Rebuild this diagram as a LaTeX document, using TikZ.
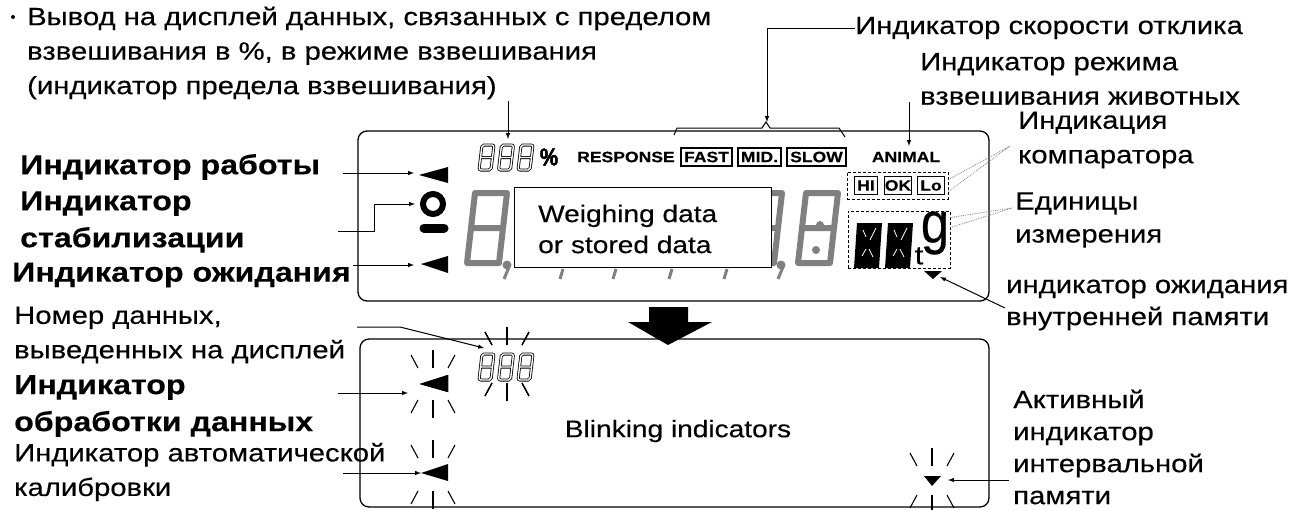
\documentclass[tikz,border=0pt]{standalone}
\usepackage{fontspec}
\setmainfont[FakeStretch=1.17,FakeBold=.3]{Liberation Sans}
\usetikzlibrary{arrows,shapes}
\tikzset{
	lbl/.style={anchor=west,inner sep=0pt,align=left,font=\fontsize{25}{34.5}\selectfont},
	lblbold/.style={anchor=west,inner sep=0pt,align=left,font=\fontsize{27.5}{37}\selectfont\bfseries},
	lcd/.style={inner sep=0pt,font=\fontsize{15}{15}\selectfont\bfseries},
	lcdbox/.style={draw,line width=1.2pt,minimum height=18pt,inner sep=0pt,font=\fontsize{15}{15}\selectfont\bfseries},
	arr/.style={-latex,line width=1pt},
	panel/.style={draw,line width=1.3pt,rounded corners=9pt},
	dotbox/.style={draw,line width=1pt,densely dashed},
	leader/.style={densely dotted,line width=.8pt,gray},
	biglcd/.style={draw=gray,line width=6pt,line join=round},
	smalllcd/.style={draw=black,line width=.8pt,double=white,double distance=1.4pt,rounded corners=2pt},
	ray/.style={line width=1.1pt}
}
% slanted seven segment eight
\newcommand{\segeight}[5]{\draw[#5] (#1+#3*.2,#2) -- (#1+#3,#2) -- (#1+#3*.8,#2+#4) -- (#1,#2+#4) -- cycle (#1+#3*.1,#2+#4*.5) -- (#1+#3*.9,#2+#4*.5);}
% rays round a blinking indicator
\newcommand{\blink}[3]{
	\draw[ray] (#1,#2) -- (#1,#2-18) (#1,#3) -- (#1,#3+18);
	\foreach \dx/\ex in {-15/-22,15/22}
		\draw[ray] (#1+\dx,#2) -- (#1+\ex,#2-13) (#1+\dx,#3) -- (#1+\ex,#3+13);
}
\begin{document}
\begin{tikzpicture}[x=1pt,y=-1pt]
	\useasboundingbox (0,0) rectangle (1296,509);
	% panels
	\draw[panel] (358,131) rectangle (989,301);
	\draw[panel] (360,339) rectangle (989,507);
	\fill (649,307) -- (688,307) -- (688,322) -- (712,322) -- (668,345) -- (628,322) -- (649,322) -- cycle;
	% upper panel, lcd
	\segeight{467}{193}{40}{70}{biglcd}
	\segeight{742}{193}{40}{70}{biglcd}
	\segeight{798}{193}{40}{70}{biglcd}
	\fill[gray] (820,225) circle (4) (816,250) circle (4);
	\foreach \x in {507,781} {
		\fill[gray] (\x,265) circle (4.5);
		\draw[gray,line width=3pt] (\x+2,267) -- (\x-3,279);
	}
	\foreach \x in {563,616,672,727}
		\draw[gray,line width=3pt] (\x,269) -- (\x-3,279);
	\node[draw,fill=white,line width=1pt,minimum width=257pt,minimum height=80pt] (DataBox) at (642.5,227) {};
	\node[lbl,font=\fontsize{24}{31}\selectfont] (DataTxt) at (538,229) {Weighing data\\or stored data};
	\foreach \x in {479,498.5,518}
		\segeight{\x}{145}{15}{25}{smalllcd}
	\node[lcd,xscale=.72,font=\fontsize{24}{24}\selectfont\bfseries] (Pct) at (549,157) {\%};
	\node[lcd,anchor=west] (Resp) at (577,157) {RESPONSE};
	\node[lcdbox,minimum width=51pt] (Fast) at (706.5,157) {FAST};
	\node[lcdbox,minimum width=43pt] (Mid) at (759.5,157) {MID.};
	\node[lcdbox,minimum width=59pt] (Slow) at (816.5,157) {SLOW};
	\node[lcd] (Animal) at (906,157) {ANIMAL};
	\node[dotbox,minimum width=101pt,minimum height=27pt] (CmpBox) at (897.5,185.5) {};
	\node[lcdbox,minimum width=23pt,minimum height=18pt] (Hi) at (866,185.5) {HI};
	\node[lcdbox,minimum width=27pt,minimum height=18pt] (Ok) at (898,185.5) {OK};
	\node[lcdbox,minimum width=27pt,minimum height=18pt] (Lo) at (931,185.5) {Lo};
	\node[dotbox,minimum width=102pt,minimum height=57pt] (UnitBox) at (899,239.5) {};
	\foreach \x in {854,885} {
		\fill (\x+3,223) -- (\x+28,223) -- (\x+25,268) -- (\x,268) -- cycle;
		\draw[white,line width=.8pt] (\x+9,230) -- (\x+12,237) (\x+22,228) -- (\x+16,240) (\x+8,256) -- (\x+12,249) (\x+19,257) -- (\x+15,249);
	}
	\node[inner sep=0pt,font=\fontsize{26}{26}\selectfont] (UnitT) at (919,256) {t};
	\node[inner sep=0pt,xscale=.75,font=\fontsize{58}{58}\selectfont] (UnitG) at (935,233) {g};
	\fill (924,271) -- (942,271) -- (933,279) -- cycle;
	\fill (419,175) -- (448,167) -- (448,183) -- cycle;
	\draw[line width=6pt] (433,204) circle (10);
	\draw[line width=9pt,line cap=round] (424,228) -- (444,228);
	\fill (421,264) -- (448,256) -- (448,273) -- cycle;
	% lower panel
	\foreach \x in {479,498.5,518}
		\segeight{\x}{354}{15}{26}{smalllcd}
	\blink{507}{345}{383}
	\fill (420,384) -- (448,375) -- (448,392) -- cycle;
	\blink{433}{368}{400}
	\fill (421,473) -- (448,464) -- (448,481) -- cycle;
	\blink{433}{458}{491}
	\fill (924,476) -- (941,476) -- (932,486) -- cycle;
	\blink{932}{466}{495}
	\node[inner sep=0pt,font=\fontsize{24}{24}\selectfont] (BlinkTxt) at (678,431) {Blinking indicators};
	% labels
	\fill (13,17) circle (2);
	\node[lbl] (TxtLimit) at (27,53) {Вывод на дисплей данных, связанных с пределом\\взвешивания в \%, в режиме взвешивания\\(индикатор предела взвешивания)};
	\node[lbl] (TxtSpeed) at (855,28) {Индикатор скорости отклика};
	\node[lbl] (TxtAnimal) at (920,79) {Индикатор режима\\взвешивания животных};
	\node[lbl] (TxtCmp) at (1018,140) {Индикация\\компаратора};
	\node[lbl,font=\fontsize{25}{33}\selectfont] (TxtUnit) at (1015,220) {Единицы\\измерения};
	\node[lbl,font=\fontsize{25}{32}\selectfont] (TxtMem) at (1006,305) {индикатор ожидания\\внутренней памяти};
	\node[lbl,font=\fontsize{25}{32}\selectfont] (TxtInterval) at (1013,447) {Активный\\индикатор\\интервальной\\памяти};
	\node[lblbold] (TxtWork) at (20,167) {Индикатор работы};
	\node[lblbold] (TxtStab) at (20,222) {Индикатор\\стабилизации};
	\node[lblbold] (TxtWait) at (12,275) {Индикатор ожидания};
	\node[lbl] (TxtNum) at (14,335) {Номер данных,\\выведенных на дисплей};
	\node[lblbold] (TxtProc) at (14,406) {Индикатор\\обработки данных};
	\node[lbl] (TxtAuto) at (14,472) {Индикатор автоматической\\калибровки};
	% connectors
	\coordinate (LimitEnd) at (508,101);
	\coordinate (LimitTip) at (508,139);
	\draw[arr] (LimitEnd) -- (LimitTip);
	\coordinate (SpeedBend) at (767,28);
	\coordinate (SpeedTip) at (767,122);
	\draw[arr] (TxtSpeed.west) -- (SpeedBend) -- (SpeedTip);
	\draw[line width=1pt] (674,135) -- (677,128) -- (762,128) -- (766,122) -- (770,128) -- (839,128) -- (845,137);
	\coordinate (AnimalEnd) at (909,102);
	\coordinate (AnimalTip) at (909,146);
	\draw[arr] (AnimalEnd) -- (AnimalTip);
	\coordinate (WorkEnd) at (343,173);
	\coordinate (WorkTip) at (414,173);
	\draw[arr] (WorkEnd) -- (WorkTip);
	\coordinate (StabEnd) at (338,231);
	\coordinate (StabA) at (374,231);
	\coordinate (StabB) at (374,204);
	\coordinate (StabTip) at (415,204);
	\draw[arr] (StabEnd) -- (StabA) -- (StabB) -- (StabTip);
	\coordinate (WaitEnd) at (353,265);
	\coordinate (WaitTip) at (414,265);
	\draw[arr] (WaitEnd) -- (WaitTip);
	\coordinate (NumEnd) at (357,327);
	\coordinate (NumBend) at (400,327);
	\coordinate (NumTip) at (484,348);
	\draw[arr] (NumEnd) -- (NumBend) -- (NumTip);
	\coordinate (ProcEnd) at (338,393);
	\coordinate (ProcTip) at (408,393);
	\draw[arr] (ProcEnd) -- (ProcTip);
	\coordinate (AutoEnd) at (343,473);
	\coordinate (AutoTip) at (421,473);
	\draw[arr] (AutoEnd) -- (AutoTip);
	\coordinate (MemEnd) at (1005,308);
	\coordinate (MemTip) at (940,277);
	\draw[arr] (MemEnd) -- (MemTip);
	\coordinate (IntervalEnd) at (1009,480);
	\coordinate (IntervalTip) at (948,480);
	\draw[arr] (IntervalEnd) -- (IntervalTip);
	\coordinate (CmpA) at (1010,146);
	\draw[leader] (CmpBox.north east) ++(0,8) -- (CmpA);
	\draw[leader] (CmpBox.south east) ++(0,-8) -- (CmpA);
	\coordinate (UnitA) at (1012,208);
	\draw[leader] (UnitBox.north east) ++(0,7) -- (UnitA);
	\draw[leader] (UnitBox.north east) ++(0,17) -- (UnitA);
\end{tikzpicture}
\end{document}
